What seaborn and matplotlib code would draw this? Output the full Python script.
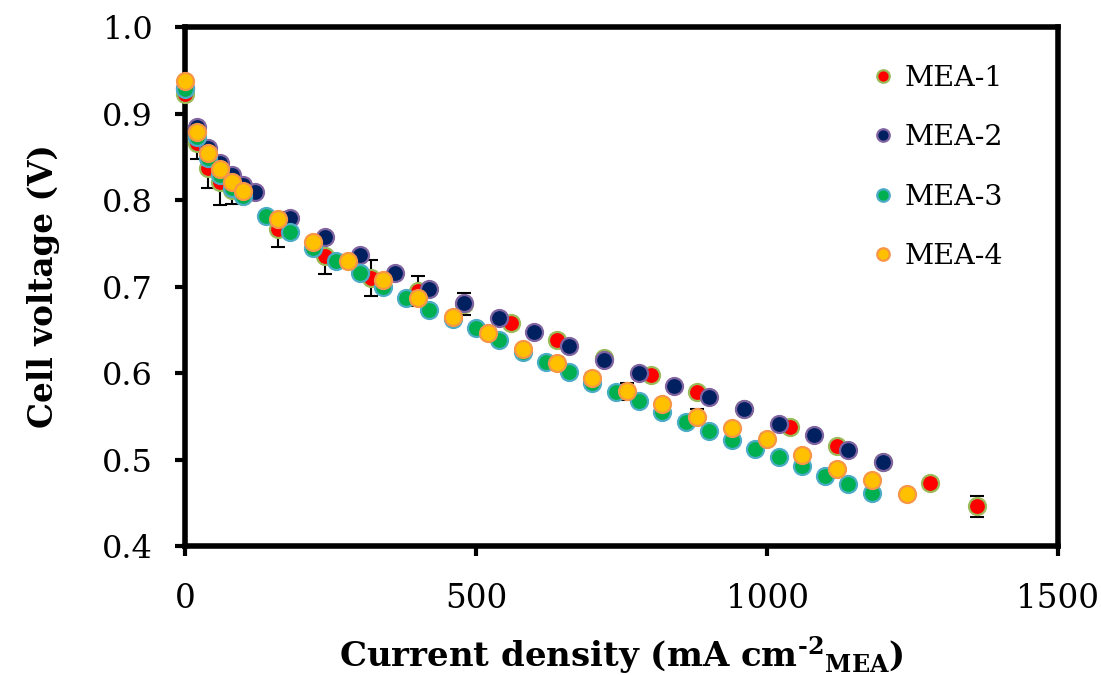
import matplotlib
matplotlib.use("Agg")
import matplotlib.pyplot as plt
import seaborn as sns
import pandas as pd
from matplotlib.lines import Line2D

# ---- data ----
x_mea1 = [0, 20, 40, 60, 80, 100, 160, 240, 320, 400, 480, 560, 640, 720, 800, 880, 960, 1040, 1120, 1200, 1280, 1360]
v_mea1 = [0.922, 0.866, 0.837, 0.821, 0.811, 0.805, 0.766, 0.735, 0.710, 0.695, 0.680, 0.658, 0.638, 0.617, 0.598, 0.578, 0.558, 0.537, 0.516, 0.497, 0.473, 0.446]
e_mea1 = [0.006, 0.019, 0.023, 0.027, 0.016, 0.005, 0.020, 0.021, 0.021, 0.017, 0.013, 0.006, 0.006, 0.005, 0.004, 0.005, 0.004, 0.003, 0.004, 0.004, 0.005, 0.012]

x_mea2 = [0, 20, 40, 60, 80, 100, 120, 180, 240, 300, 360, 420, 480, 540, 600, 660, 720, 780, 840, 900, 960, 1020, 1080, 1140, 1200]
v_mea2 = [0.930, 0.884, 0.860, 0.843, 0.829, 0.817, 0.809, 0.779, 0.757, 0.736, 0.716, 0.697, 0.681, 0.664, 0.647, 0.631, 0.615, 0.600, 0.585, 0.572, 0.558, 0.541, 0.528, 0.511, 0.497]
e_mea2 = [0.003] * len(x_mea2)

x_mea3 = [0, 20, 40, 60, 80, 100, 140, 180, 220, 260, 300, 340, 380, 420, 460, 500, 540, 580, 620, 660, 700, 740, 780, 820, 860, 900, 940, 980, 1020, 1060, 1100, 1140, 1180]
v_mea3 = [0.928, 0.873, 0.849, 0.829, 0.814, 0.805, 0.782, 0.763, 0.745, 0.729, 0.716, 0.700, 0.687, 0.673, 0.663, 0.652, 0.638, 0.624, 0.613, 0.601, 0.588, 0.578, 0.568, 0.555, 0.543, 0.533, 0.522, 0.512, 0.503, 0.492, 0.481, 0.472, 0.461]
e_mea3 = [0.003] * len(x_mea3)

x_mea4 = [0, 20, 40, 60, 80, 100, 160, 220, 280, 340, 400, 460, 520, 580, 640, 700, 760, 820, 880, 940, 1000, 1060, 1120, 1180, 1240]
v_mea4 = [0.937, 0.879, 0.854, 0.836, 0.821, 0.810, 0.778, 0.752, 0.729, 0.707, 0.687, 0.665, 0.646, 0.628, 0.611, 0.594, 0.579, 0.564, 0.549, 0.536, 0.524, 0.505, 0.489, 0.476, 0.460]
e_mea4 = [0.004, 0.004, 0.004, 0.004, 0.004, 0.004, 0.004, 0.004, 0.004, 0.004, 0.004, 0.004, 0.004, 0.004, 0.008, 0.006, 0.010, 0.004, 0.009, 0.004, 0.005, 0.004, 0.006, 0.004, 0.004]

labels = ["MEA-1", "MEA-2", "MEA-3", "MEA-4"]
face_colors = ["#FF0000", "#002060", "#00B050", "#FFC000"]
edge_colors = ["#9BBB59", "#8064A2", "#4BACC6", "#F79646"]

xticks = [0, 500, 1000, 1500]
yticks = [0.4, 0.5, 0.6, 0.7, 0.8, 0.9, 1.0]

frames = []
for lab, xs, vs, es in zip(labels, [x_mea1, x_mea2, x_mea3, x_mea4],
                           [v_mea1, v_mea2, v_mea3, v_mea4],
                           [e_mea1, e_mea2, e_mea3, e_mea4]):
    frames.append(pd.DataFrame({"x": xs, "v": vs, "e": es, "series": lab}))
df = pd.concat(frames, ignore_index=True)

# ---- style ----
sns.set_style("white")
plt.rcParams["font.family"] = ["DejaVu Serif"]
plt.rcParams["mathtext.fontset"] = "dejavuserif"
for k in ["text.color", "axes.labelcolor", "xtick.color", "ytick.color"]:
    plt.rcParams[k] = "black"

fig = plt.figure(figsize=(11.01, 6.75), dpi=100)
ax = fig.add_axes([185 / 1101, 1 - 546 / 675, (1058 - 185) / 1101, (546 - 27) / 675])

for i, (lab, fc, ec) in enumerate(zip(labels, face_colors, edge_colors)):
    d = df[df["series"] == lab]
    ax.errorbar(d["x"], d["v"], yerr=d["e"], fmt="none", ecolor="black",
                elinewidth=1.5, capsize=5, capthick=1.5, zorder=1)
for i, (lab, fc, ec) in enumerate(zip(labels, face_colors, edge_colors)):
    d = df[df["series"] == lab]
    sns.scatterplot(data=d, x="x", y="v", ax=ax, color=fc, edgecolor=ec,
                    linewidth=1.6, s=150, zorder=3 + i, legend=False, clip_on=False)

ax.set_xlim(0, 1500)
ax.set_ylim(0.4, 1.0)
ax.set_xticks(xticks)
ax.set_yticks(yticks)
ax.set_xticklabels([str(t) for t in xticks], fontsize=23.5)
ax.set_yticklabels([f"{t:.1f}" for t in yticks], fontsize=23)

for sp in ax.spines.values():
    sp.set_visible(True)
    sp.set_color("black")
    sp.set_linewidth(4)

ax.tick_params(axis="both", which="major", direction="out", length=7, width=3,
               color="black", bottom=True, left=True, top=False, right=False)
ax.tick_params(axis="y", pad=16)
ax.tick_params(axis="x", pad=20)

ax.set_xlabel("Current density (mA cm$^{\\mathbf{\u20102}}$$_{\\mathbf{MEA}}$)",
              fontsize=24.5, fontweight="bold", labelpad=14)
ax.set_ylabel("Cell voltage (V)", fontsize=23.5, fontweight="bold", labelpad=30)

handles = [Line2D([0], [0], marker="o", linestyle="none", markersize=9,
                  markerfacecolor=fc, markeredgecolor=ec, markeredgewidth=1.6)
           for fc, ec in zip(face_colors, edge_colors)]
fig.legend(handles, labels, loc="upper left", bbox_to_anchor=(872 / 1101, 1 - 65 / 675),
           frameon=False, fontsize=20.5, handlelength=0.8, handletextpad=0.35,
           labelspacing=1.14, borderpad=0, borderaxespad=0)

fig.savefig("out.png", dpi=100)
